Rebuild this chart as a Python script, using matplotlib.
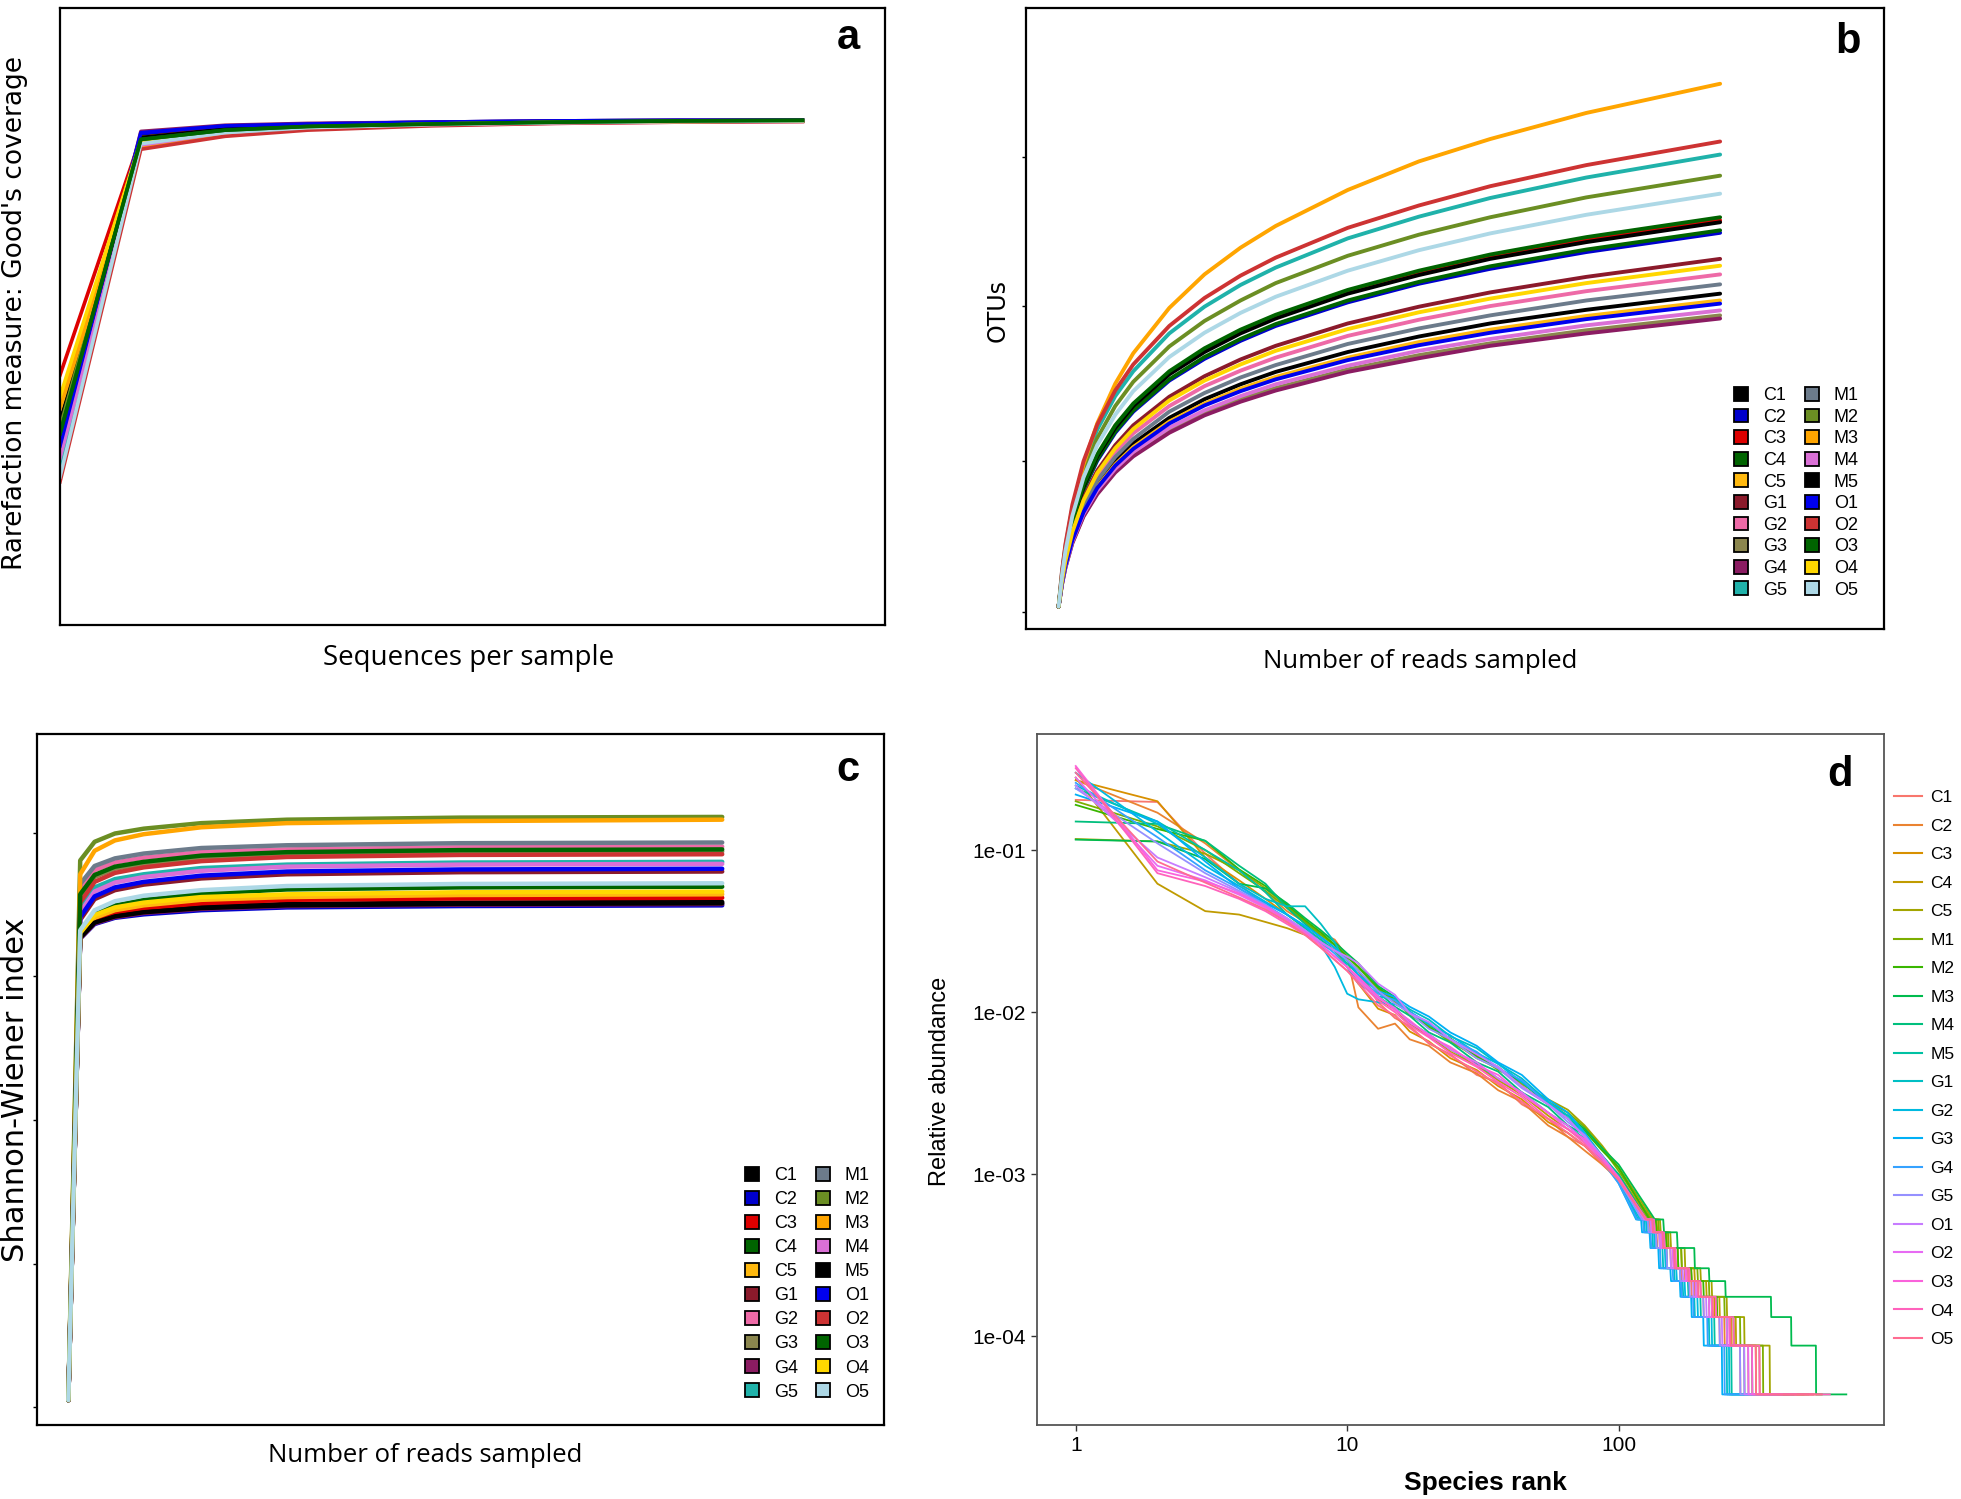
import matplotlib
matplotlib.use("Agg")
import matplotlib.pyplot as plt
from matplotlib.patches import Patch
from matplotlib.lines import Line2D

# ---- sample names / colours (panels a-c) ----
samples = ['C1', 'C2', 'C3', 'C4', 'C5', 'G1', 'G2', 'G3', 'G4', 'G5',
           'M1', 'M2', 'M3', 'M4', 'M5', 'O1', 'O2', 'O3', 'O4', 'O5']
sample_colors = ['#000000', '#0000CD', '#DD0000', '#006400', '#FFB90F',
                 '#8B1A2B', '#EE6AA7', '#8B864E', '#8B1C62', '#20B2AA',
                 '#6C7B8B', '#6B8E23', '#FFA500', '#DA70D6', '#000000',
                 '#0000EE', '#CD3333', '#006400', '#FFD700', '#ADD8E6']

# ---- panel a: Good's coverage (axis fraction units, no tick labels in original) ----
cov_x = [0.0, 0.098, 0.2, 0.3, 0.45, 0.6, 0.75, 0.9]
cov_y = {
    'C1': [0.33, 0.790, 0.804, 0.810, 0.814, 0.816, 0.817, 0.817],
    'C2': [0.30, 0.795, 0.808, 0.812, 0.815, 0.817, 0.818, 0.818],
    'C3': [0.405, 0.790, 0.805, 0.810, 0.814, 0.816, 0.817, 0.818],
    'C4': [0.31, 0.787, 0.802, 0.808, 0.812, 0.815, 0.817, 0.818],
    'C5': [0.36, 0.785, 0.800, 0.807, 0.812, 0.815, 0.816, 0.817],
    'G1': [0.29, 0.790, 0.803, 0.809, 0.813, 0.815, 0.816, 0.817],
    'G2': [0.26, 0.775, 0.795, 0.804, 0.810, 0.813, 0.815, 0.816],
    'G3': [0.27, 0.785, 0.800, 0.807, 0.812, 0.815, 0.816, 0.817],
    'G4': [0.28, 0.800, 0.810, 0.813, 0.815, 0.817, 0.818, 0.818],
    'G5': [0.25, 0.783, 0.800, 0.807, 0.812, 0.815, 0.816, 0.817],
    'M1': [0.28, 0.785, 0.801, 0.808, 0.812, 0.815, 0.816, 0.817],
    'M2': [0.32, 0.790, 0.803, 0.809, 0.813, 0.815, 0.817, 0.817],
    'M3': [0.35, 0.775, 0.797, 0.805, 0.811, 0.814, 0.816, 0.817],
    'M4': [0.27, 0.778, 0.798, 0.806, 0.811, 0.814, 0.816, 0.817],
    'M5': [0.30, 0.790, 0.804, 0.810, 0.814, 0.816, 0.817, 0.817],
    'O1': [0.29, 0.798, 0.809, 0.812, 0.815, 0.817, 0.818, 0.818],
    'O2': [0.232, 0.771, 0.792, 0.802, 0.809, 0.813, 0.815, 0.816],
    'O3': [0.31, 0.787, 0.802, 0.808, 0.812, 0.815, 0.817, 0.818],
    'O4': [0.37, 0.785, 0.800, 0.807, 0.812, 0.815, 0.816, 0.817],
    'O5': [0.24, 0.780, 0.798, 0.806, 0.811, 0.814, 0.816, 0.817],
}

# ---- panel b: OTU rarefaction ----
otu_x = [0.038, 0.042, 0.046, 0.054, 0.067, 0.083, 0.104, 0.125, 0.167,
         0.208, 0.25, 0.291, 0.375, 0.458, 0.541, 0.653, 0.809]
otu_y = {
    'C1': [0.036, 0.075, 0.104, 0.146, 0.193, 0.233, 0.270, 0.299, 0.340, 0.370, 0.394, 0.414, 0.446, 0.471, 0.492, 0.514, 0.540],
    'C2': [0.036, 0.082, 0.117, 0.168, 0.224, 0.271, 0.316, 0.350, 0.400, 0.435, 0.464, 0.488, 0.526, 0.556, 0.580, 0.607, 0.638],
    'C3': [0.036, 0.084, 0.120, 0.172, 0.230, 0.279, 0.325, 0.360, 0.412, 0.448, 0.478, 0.503, 0.542, 0.573, 0.598, 0.626, 0.658],
    'C4': [0.036, 0.083, 0.118, 0.169, 0.225, 0.273, 0.318, 0.352, 0.402, 0.438, 0.467, 0.491, 0.529, 0.559, 0.584, 0.611, 0.642],
    'C5': [0.036, 0.074, 0.103, 0.144, 0.190, 0.229, 0.265, 0.293, 0.334, 0.363, 0.387, 0.406, 0.437, 0.462, 0.482, 0.504, 0.529],
    'G1': [0.036, 0.079, 0.112, 0.159, 0.211, 0.255, 0.296, 0.328, 0.374, 0.407, 0.434, 0.456, 0.492, 0.519, 0.542, 0.567, 0.596],
    'G2': [0.036, 0.077, 0.108, 0.153, 0.203, 0.245, 0.285, 0.315, 0.359, 0.391, 0.416, 0.437, 0.472, 0.498, 0.520, 0.544, 0.571],
    'G3': [0.036, 0.072, 0.099, 0.139, 0.182, 0.219, 0.254, 0.280, 0.319, 0.347, 0.370, 0.388, 0.418, 0.441, 0.460, 0.481, 0.505],
    'G4': [0.036, 0.072, 0.099, 0.138, 0.181, 0.217, 0.252, 0.278, 0.316, 0.344, 0.366, 0.384, 0.414, 0.436, 0.456, 0.476, 0.500],
    'G5': [0.036, 0.092, 0.134, 0.195, 0.263, 0.321, 0.375, 0.415, 0.476, 0.519, 0.554, 0.582, 0.629, 0.664, 0.694, 0.727, 0.764],
    'M1': [0.036, 0.076, 0.106, 0.150, 0.198, 0.239, 0.277, 0.306, 0.350, 0.380, 0.405, 0.425, 0.459, 0.484, 0.505, 0.529, 0.555],
    'M2': [0.036, 0.089, 0.130, 0.188, 0.253, 0.307, 0.359, 0.398, 0.455, 0.496, 0.529, 0.557, 0.601, 0.635, 0.663, 0.695, 0.730],
    'M3': [0.036, 0.087, 0.127, 0.190, 0.265, 0.331, 0.395, 0.444, 0.517, 0.571, 0.614, 0.649, 0.707, 0.753, 0.789, 0.831, 0.878],
    'M4': [0.036, 0.073, 0.100, 0.141, 0.185, 0.223, 0.258, 0.285, 0.324, 0.352, 0.375, 0.394, 0.424, 0.448, 0.467, 0.489, 0.513],
    'M5': [0.036, 0.084, 0.120, 0.172, 0.229, 0.278, 0.324, 0.359, 0.410, 0.446, 0.476, 0.500, 0.540, 0.570, 0.596, 0.623, 0.655],
    'O1': [0.036, 0.074, 0.102, 0.143, 0.188, 0.227, 0.263, 0.290, 0.331, 0.360, 0.383, 0.402, 0.433, 0.457, 0.477, 0.499, 0.524],
    'O2': [0.036, 0.094, 0.137, 0.200, 0.270, 0.329, 0.384, 0.426, 0.488, 0.533, 0.569, 0.598, 0.646, 0.682, 0.713, 0.747, 0.785],
    'O3': [0.036, 0.084, 0.121, 0.173, 0.232, 0.281, 0.328, 0.363, 0.415, 0.452, 0.482, 0.506, 0.546, 0.577, 0.603, 0.631, 0.663],
    'O4': [0.036, 0.078, 0.110, 0.156, 0.207, 0.251, 0.291, 0.322, 0.368, 0.400, 0.426, 0.448, 0.483, 0.510, 0.532, 0.557, 0.585],
    'O5': [0.036, 0.087, 0.126, 0.182, 0.244, 0.296, 0.345, 0.383, 0.438, 0.477, 0.509, 0.535, 0.577, 0.610, 0.637, 0.667, 0.701],
}

# ---- panel c: Shannon-Wiener rarefaction ----
sh_x = [0.037, 0.051, 0.068, 0.092, 0.126, 0.194, 0.295, 0.5, 0.809]
sh_y = {
    'C1': [0.036, 0.707, 0.729, 0.738, 0.744, 0.750, 0.754, 0.756, 0.757],
    'C2': [0.036, 0.704, 0.725, 0.734, 0.739, 0.745, 0.749, 0.751, 0.752],
    'C3': [0.036, 0.708, 0.732, 0.742, 0.748, 0.755, 0.760, 0.762, 0.763],
    'C4': [0.036, 0.709, 0.739, 0.752, 0.760, 0.769, 0.775, 0.778, 0.779],
    'C5': [0.036, 0.708, 0.734, 0.745, 0.752, 0.760, 0.764, 0.767, 0.768],
    'G1': [0.036, 0.731, 0.761, 0.774, 0.782, 0.791, 0.797, 0.800, 0.801],
    'G2': [0.036, 0.777, 0.803, 0.814, 0.821, 0.829, 0.833, 0.836, 0.837],
    'G3': [0.036, 0.765, 0.793, 0.805, 0.812, 0.821, 0.826, 0.829, 0.830],
    'G4': [0.036, 0.704, 0.726, 0.735, 0.741, 0.747, 0.751, 0.753, 0.754],
    'G5': [0.036, 0.750, 0.778, 0.790, 0.797, 0.806, 0.811, 0.814, 0.815],
    'M1': [0.036, 0.783, 0.809, 0.820, 0.827, 0.835, 0.839, 0.842, 0.843],
    'M2': [0.036, 0.817, 0.844, 0.856, 0.863, 0.871, 0.876, 0.879, 0.880],
    'M3': [0.036, 0.797, 0.831, 0.846, 0.855, 0.865, 0.871, 0.874, 0.876],
    'M4': [0.036, 0.742, 0.772, 0.785, 0.793, 0.802, 0.808, 0.811, 0.812],
    'M5': [0.036, 0.705, 0.727, 0.736, 0.742, 0.748, 0.752, 0.754, 0.755],
    'O1': [0.036, 0.735, 0.765, 0.778, 0.786, 0.795, 0.801, 0.804, 0.805],
    'O2': [0.036, 0.756, 0.786, 0.799, 0.807, 0.816, 0.822, 0.825, 0.826],
    'O3': [0.036, 0.768, 0.796, 0.808, 0.815, 0.824, 0.829, 0.832, 0.833],
    'O4': [0.036, 0.712, 0.738, 0.749, 0.756, 0.764, 0.768, 0.771, 0.772],
    'O5': [0.036, 0.716, 0.745, 0.758, 0.766, 0.774, 0.780, 0.783, 0.784],
}

# ---- panel d: rank-abundance ----
rank_samples = ['C1', 'C2', 'C3', 'C4', 'C5', 'M1', 'M2', 'M3', 'M4', 'M5',
                'G1', 'G2', 'G3', 'G4', 'G5', 'O1', 'O2', 'O3', 'O4', 'O5']
rank_colors = ['#F8766D', '#EA8331', '#D89000', '#C09B00', '#A3A500',
               '#7CAE00', '#39B600', '#00BB4E', '#00BF7D', '#00C1A3',
               '#00BFC4', '#00BAE0', '#00B0F6', '#35A2FF', '#9590FF',
               '#C77CFF', '#E76BF3', '#FA62DB', '#FF62BC', '#FF6C91']
head_ranks = [1, 2, 3, 4, 5, 6, 7, 8, 9, 10, 11, 13, 15, 17, 20, 24, 30, 36, 44, 55, 65, 75, 87, 100]
head_abund = {
    'C1': [0.204, 0.198, 0.095, 0.062, 0.045, 0.037, 0.031, 0.026, 0.024, 0.021, 0.018, 0.0115, 0.0092, 0.0082, 0.0064, 0.0055, 0.0041, 0.0037, 0.0027, 0.0022, 0.0017, 0.00150, 0.00115, 0.00095],
    'C2': [0.27, 0.17, 0.11, 0.075, 0.055, 0.042, 0.036, 0.031, 0.028, 0.022, 0.0107, 0.0079, 0.0085, 0.0068, 0.0062, 0.0049, 0.0042, 0.0033, 0.0028, 0.0020, 0.0017, 0.00140, 0.00115, 0.00092],
    'C3': [0.27, 0.20, 0.09, 0.065, 0.05, 0.040, 0.033, 0.028, 0.024, 0.019, 0.015, 0.0105, 0.0096, 0.0076, 0.0066, 0.0052, 0.0044, 0.0035, 0.0029, 0.0021, 0.0018, 0.00150, 0.00120, 0.00098],
    'C4': [0.28, 0.062, 0.042, 0.040, 0.036, 0.033, 0.030, 0.027, 0.024, 0.021, 0.018, 0.0120, 0.0104, 0.0085, 0.0071, 0.0057, 0.0047, 0.0038, 0.0031, 0.0023, 0.0019, 0.00160, 0.00125, 0.00100],
    'C5': [0.117, 0.113, 0.095, 0.075, 0.058, 0.045, 0.036, 0.030, 0.026, 0.022, 0.019, 0.0140, 0.0115, 0.0099, 0.0080, 0.0067, 0.0052, 0.0045, 0.0036, 0.0029, 0.0025, 0.00200, 0.00150, 0.00110],
    'M1': [0.20, 0.14, 0.10, 0.072, 0.056, 0.044, 0.036, 0.030, 0.026, 0.022, 0.019, 0.0138, 0.0118, 0.0096, 0.0082, 0.0065, 0.0054, 0.0044, 0.0037, 0.0028, 0.0024, 0.00195, 0.00145, 0.00105],
    'M2': [0.19, 0.135, 0.114, 0.076, 0.060, 0.046, 0.037, 0.031, 0.026, 0.022, 0.019, 0.0142, 0.0120, 0.0101, 0.0080, 0.0069, 0.0053, 0.0046, 0.0035, 0.0027, 0.0022, 0.00185, 0.00140, 0.00110],
    'M3': [0.116, 0.113, 0.088, 0.062, 0.058, 0.047, 0.038, 0.032, 0.027, 0.023, 0.020, 0.0145, 0.0124, 0.0100, 0.0084, 0.0068, 0.0056, 0.0045, 0.0037, 0.0027, 0.0023, 0.00190, 0.00145, 0.00115],
    'M4': [0.15, 0.145, 0.114, 0.080, 0.062, 0.044, 0.035, 0.029, 0.025, 0.021, 0.018, 0.0133, 0.0108, 0.0095, 0.0075, 0.0065, 0.0049, 0.0043, 0.0032, 0.0026, 0.0020, 0.00175, 0.00130, 0.00100],
    'M5': [0.24, 0.15, 0.10, 0.075, 0.055, 0.040, 0.033, 0.028, 0.024, 0.020, 0.017, 0.0125, 0.0106, 0.0087, 0.0073, 0.0059, 0.0048, 0.0039, 0.0032, 0.0024, 0.0020, 0.00165, 0.00130, 0.00098],
    'G1': [0.25, 0.145, 0.09, 0.062, 0.050, 0.045, 0.045, 0.035, 0.027, 0.019, 0.015, 0.0125, 0.0120, 0.0104, 0.0090, 0.0071, 0.0060, 0.0048, 0.0039, 0.0028, 0.0023, 0.00180, 0.00130, 0.00095],
    'G2': [0.30, 0.13, 0.08, 0.060, 0.048, 0.040, 0.034, 0.026, 0.019, 0.013, 0.012, 0.0115, 0.0112, 0.0101, 0.0084, 0.0072, 0.0056, 0.0048, 0.0037, 0.0028, 0.0022, 0.00175, 0.00125, 0.00090],
    'G3': [0.22, 0.15, 0.085, 0.058, 0.047, 0.040, 0.034, 0.029, 0.025, 0.021, 0.017, 0.0135, 0.0124, 0.0108, 0.0094, 0.0075, 0.0062, 0.0049, 0.0041, 0.0029, 0.0024, 0.00180, 0.00125, 0.00088],
    'G4': [0.26, 0.12, 0.075, 0.058, 0.046, 0.038, 0.032, 0.027, 0.023, 0.019, 0.016, 0.0130, 0.0118, 0.0100, 0.0086, 0.0068, 0.0057, 0.0045, 0.0038, 0.0027, 0.0022, 0.00170, 0.00120, 0.00088],
    'G5': [0.24, 0.11, 0.072, 0.056, 0.046, 0.037, 0.031, 0.027, 0.024, 0.021, 0.018, 0.0135, 0.0113, 0.0099, 0.0079, 0.0068, 0.0052, 0.0045, 0.0034, 0.0027, 0.0021, 0.00175, 0.00125, 0.00092],
    'O1': [0.25, 0.09, 0.068, 0.055, 0.045, 0.038, 0.032, 0.027, 0.024, 0.022, 0.020, 0.0150, 0.0128, 0.0098, 0.0087, 0.0068, 0.0055, 0.0046, 0.0035, 0.0027, 0.0022, 0.00170, 0.00130, 0.00095],
    'O2': [0.28, 0.08, 0.065, 0.053, 0.044, 0.036, 0.031, 0.026, 0.022, 0.019, 0.016, 0.0122, 0.0106, 0.0086, 0.0073, 0.0059, 0.0049, 0.0039, 0.0032, 0.0024, 0.0020, 0.00160, 0.00125, 0.00093],
    'O3': [0.33, 0.075, 0.064, 0.054, 0.045, 0.037, 0.031, 0.026, 0.022, 0.019, 0.0165, 0.0125, 0.0103, 0.0089, 0.0071, 0.0061, 0.0047, 0.0041, 0.0031, 0.0024, 0.0019, 0.00165, 0.00125, 0.00096],
    'O4': [0.32, 0.072, 0.060, 0.050, 0.042, 0.035, 0.030, 0.025, 0.021, 0.018, 0.0155, 0.0118, 0.0100, 0.0083, 0.0070, 0.0056, 0.0046, 0.0037, 0.0030, 0.0022, 0.0019, 0.00155, 0.00120, 0.00094],
    'O5': [0.30, 0.085, 0.063, 0.051, 0.043, 0.036, 0.030, 0.025, 0.021, 0.018, 0.0150, 0.0110, 0.0095, 0.0080, 0.0065, 0.0054, 0.0043, 0.0036, 0.0028, 0.0022, 0.0018, 0.00150, 0.00118, 0.00092],
}
# tail: read-count levels and ranks [start of first level, end of each level]
n_reads = 22800
tail_levels = [12, 10, 8, 6, 5, 4, 3, 2, 1]
tail_ranks = {
    'C1': [124, 130, 138, 150, 170, 185, 205, 235, 280, 360],
    'C2': [126, 132, 141, 155, 175, 190, 215, 245, 300, 420],
    'C3': [128, 135, 146, 165, 185, 200, 225, 260, 320, 480],
    'C4': [130, 138, 150, 170, 190, 210, 235, 270, 330, 520],
    'C5': [134, 142, 155, 175, 200, 220, 250, 290, 360, 560],
    'M1': [132, 140, 152, 170, 195, 215, 245, 280, 340, 500],
    'M2': [130, 137, 149, 165, 185, 205, 230, 265, 310, 440],
    'M3': [136, 146, 164, 190, 215, 247, 364, 432, 533, 690],
    'M4': [127, 134, 145, 160, 180, 195, 220, 250, 290, 380],
    'M5': [122, 128, 137, 150, 168, 180, 200, 225, 260, 330],
    'G1': [118, 124, 133, 145, 160, 172, 190, 215, 250, 300],
    'G2': [120, 126, 135, 148, 163, 175, 195, 220, 255, 310],
    'G3': [116, 121, 130, 140, 155, 168, 185, 205, 240, 290],
    'G4': [117, 123, 131, 142, 158, 170, 188, 212, 245, 295],
    'G5': [122, 128, 137, 150, 168, 182, 205, 235, 280, 380],
    'O1': [124, 131, 141, 155, 172, 188, 210, 240, 290, 400],
    'O2': [125, 132, 143, 158, 176, 192, 215, 250, 300, 450],
    'O3': [126, 133, 145, 160, 178, 195, 220, 255, 310, 520],
    'O4': [127, 135, 147, 162, 182, 200, 228, 265, 330, 600],
    'O5': [126, 133, 145, 160, 180, 196, 222, 258, 320, 560],
}

W, H = 1961, 1499
SANS = 'Liberation Sans'


def box(x0, y0, x1, y1):
    # pixel box (top-left origin) -> figure fraction rect
    return [x0 / W, 1 - y1 / H, (x1 - x0) / W, (y1 - y0) / H]


def style_plain(ax, yticks=()):
    ax.set_xlim(0, 1)
    ax.set_ylim(0, 1)
    ax.set_xticks([])
    ax.set_yticks(list(yticks))
    ax.set_yticklabels([])
    ax.tick_params(axis='y', length=3, width=1)
    for s in ax.spines.values():
        s.set_linewidth(1.6)
        s.set_color('black')


def square_legend(ax, x, y, spacing):
    handles = [Patch(facecolor=c, edgecolor='black', linewidth=1.3) for c in sample_colors]
    ax.legend(handles, samples, ncol=2, loc='upper left', bbox_to_anchor=(x / W, 1 - y / H),
              bbox_transform=fig.transFigure, frameon=False, borderpad=0, borderaxespad=0,
              handlelength=0.8, handleheight=0.8, handletextpad=0.8, columnspacing=1.0,
              labelspacing=spacing, prop={'family': SANS, 'size': 13})


fig = plt.figure(figsize=(W / 100, H / 100), dpi=100)

# ---------------- a ----------------
ax_a = fig.add_axes(box(60, 8, 885, 625))
style_plain(ax_a)
draw_order = [s for s in samples if s not in ('C4', 'O3')] + ['C4', 'O3']
for s in draw_order:
    ax_a.plot(cov_x, cov_y[s], color=sample_colors[samples.index(s)], lw=2.6,
              solid_joinstyle='round')
fig.text(848 / W, 1 - 38 / H, 'a', ha='center', va='center', fontsize=30,
         fontweight='bold', family=SANS)
fig.text(469 / W, 1 - 658 / H, 'Sequences per sample', ha='center', va='center',
         fontsize=20, family='Open Sans')
fig.text(15 / W, 1 - 313 / H, "Rarefaction measure: Good's coverage", ha='center',
         va='center', rotation=90, fontsize=19, family='DejaVu Sans')

# ---------------- b ----------------
ax_b = fig.add_axes(box(1026, 8, 1884, 629))
style_plain(ax_b, yticks=[0.027, 0.27, 0.52, 0.76])
for s, c in zip(samples, sample_colors):
    ax_b.plot(otu_x, otu_y[s], color=c, lw=2.8, solid_capstyle='round',
              solid_joinstyle='round')
square_legend(ax_b, 1734, 387, 0.245)
fig.text(1848 / W, 1 - 42 / H, 'b', ha='center', va='center', fontsize=30,
         fontweight='bold', family=SANS)
fig.text(1420 / W, 1 - 661 / H, 'Number of reads sampled', ha='center', va='center',
         fontsize=18.5, family='Open Sans')
fig.text(998 / W, 1 - 311 / H, 'OTUs', ha='center', va='center', rotation=90,
         fontsize=17, family='DejaVu Sans')

# ---------------- c ----------------
ax_c = fig.add_axes(box(37, 734, 884, 1425))
style_plain(ax_c, yticks=[0.026, 0.233, 0.441, 0.650, 0.857])
for s, c in zip(samples, sample_colors):
    ax_c.plot(sh_x, sh_y[s], color=c, lw=3.2, solid_capstyle='round')
square_legend(ax_c, 745, 1167, 0.38)
fig.text(848 / W, 1 - 770 / H, 'c', ha='center', va='center', fontsize=30,
         fontweight='bold', family=SANS)
fig.text(425 / W, 1 - 1455 / H, 'Number of reads sampled', ha='center', va='center',
         fontsize=18.5, family='Open Sans')
fig.text(16 / W, 1 - 1090 / H, 'Shannon-Wiener index', ha='center', va='center',
         rotation=90, fontsize=22, family='DejaVu Sans')

# ---------------- d ----------------
ax_d = fig.add_axes(box(1037, 734, 1884, 1425))
for s, c in zip(rank_samples, rank_colors):
    ranks = list(head_ranks)
    vals = list(head_abund[s])
    tr = tail_ranks[s]
    start = tr[0]
    for lvl, end in zip(tail_levels, tr[1:]):
        ranks += [start, end]
        vals += [lvl / n_reads, lvl / n_reads]
        start = end + 1
    ax_d.plot(ranks, vals, color=c, lw=1.3)
ax_d.set_xscale('log')
ax_d.set_yscale('log')
ax_d.set_xlim(0.72, 950)
ax_d.set_ylim(2.84e-5, 0.52)
ax_d.set_xticks([1, 10, 100])
ax_d.set_xticklabels(['1', '10', '100'])
ax_d.set_yticks([1e-1, 1e-2, 1e-3, 1e-4])
ax_d.set_yticklabels(['1e-01', '1e-02', '1e-03', '1e-04'])
ax_d.minorticks_off()
ax_d.tick_params(length=4, width=1, color='#333333', labelsize=15, pad=4)
for lab in ax_d.get_xticklabels() + ax_d.get_yticklabels():
    lab.set_family(SANS)
for sp in ax_d.spines.values():
    sp.set_color('#555555')
    sp.set_linewidth(1.3)
fig.text(1485 / W, 1 - 1483 / H, 'Species rank', ha='center', va='center',
         fontsize=19, fontweight='bold', family=SANS)
fig.text(940 / W, 1 - 1081 / H, 'Relative abundance', ha='center', va='center',
         rotation=90, fontsize=17, family=SANS)
fig.text(1840 / W, 1 - 775 / H, 'd', ha='center', va='center', fontsize=30,
         fontweight='bold', family=SANS)
line_handles = [Line2D([], [], color=c, lw=1.5) for c in rank_colors]
ax_d.legend(line_handles, rank_samples, loc='upper left', bbox_to_anchor=(1894 / W, 1 - 790 / H),
            bbox_transform=fig.transFigure, frameon=False, borderpad=0, borderaxespad=0,
            handlelength=1.6, handletextpad=0.5, labelspacing=0.77,
            prop={'family': SANS, 'size': 12.5})

fig.savefig('out.png', dpi=100)
